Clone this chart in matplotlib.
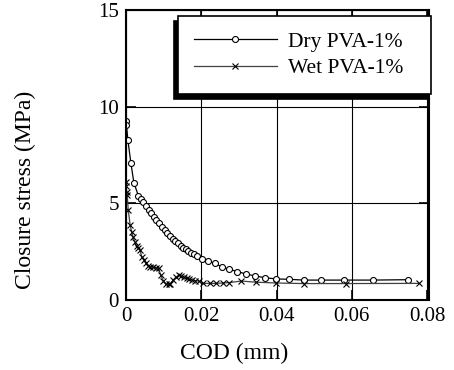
import numpy as np
import matplotlib
matplotlib.use('Agg')
import matplotlib.pyplot as plt

plt.rcParams['font.family'] = ['Liberation Serif', 'DejaVu Serif']

# crack opening displacement (mm) and closure stress (MPa)
dry_cod = [0.0, 0.00013, 0.0005, 0.0013, 0.0021, 0.0033, 0.0040, 0.0046, 0.0053, 0.0060,
           0.0067, 0.0074, 0.0081, 0.0088, 0.0095, 0.0103, 0.0109, 0.0117, 0.0124, 0.0131,
           0.0138, 0.0145, 0.0152, 0.0159, 0.0166, 0.0173, 0.0180, 0.0189, 0.0203, 0.0218,
           0.0236, 0.0254, 0.0274, 0.0296, 0.0320, 0.0344, 0.0370, 0.0399, 0.0433, 0.0472,
           0.0518, 0.0580, 0.0655, 0.0750]
dry_stress = [9.27, 9.05, 8.27, 7.08, 6.06, 5.39, 5.20, 5.07, 4.86, 4.65,
              4.48, 4.31, 4.14, 3.97, 3.79, 3.62, 3.45, 3.31, 3.17, 3.05,
              2.93, 2.81, 2.70, 2.62, 2.53, 2.45, 2.36, 2.27, 2.12, 2.02,
              1.90, 1.72, 1.59, 1.47, 1.34, 1.24, 1.15, 1.09, 1.07, 1.03,
              1.03, 1.03, 1.03, 1.05]

wet_cod = [0.0, 0.0, 0.0002, 0.0003, 0.0006, 0.0011, 0.0015, 0.0019, 0.0024, 0.0028,
           0.0033, 0.0037, 0.0042, 0.0048, 0.0053, 0.0059, 0.0065, 0.0072, 0.0079, 0.0087,
           0.0092, 0.0099, 0.0106, 0.0113, 0.0118, 0.0125, 0.0132, 0.0140, 0.0146, 0.0154,
           0.0161, 0.0168, 0.0175, 0.0184, 0.0193, 0.0205, 0.0223, 0.0240, 0.0258, 0.0274,
           0.0306, 0.0346, 0.0399, 0.0472, 0.0585, 0.0779]
wet_stress = [6.10, 5.90, 5.60, 5.45, 4.65, 3.88, 3.53, 3.24, 2.98, 2.79,
              2.70, 2.58, 2.24, 2.07, 1.90, 1.77, 1.72, 1.69, 1.67, 1.64,
              1.29, 1.00, 0.81, 0.81, 0.83, 1.03, 1.17, 1.28, 1.24, 1.17,
              1.12, 1.07, 1.03, 1.00, 0.98, 0.86, 0.86, 0.86, 0.88, 0.90,
              0.98, 0.92, 0.88, 0.85, 0.85, 0.86]

fig = plt.figure(figsize=(4.54, 3.70), dpi=100)
ax = fig.add_axes([126 / 454, 1 - 300 / 370, 303 / 454, 290 / 370])

ax.plot(dry_cod, dry_stress, color='black', lw=0.9, marker='o', ms=4.3,
        mfc='white', mec='black', mew=0.8, label='Dry PVA-1%')
ax.plot(wet_cod, wet_stress, color='0.25', lw=0.9, marker='x', ms=4,
        mec='black', mew=0.8, label='Wet PVA-1%')

ax.set_xlim(0, 0.0805)
ax.set_ylim(0, 15)
ax.set_xticks([0, 0.02, 0.04, 0.06, 0.08])
ax.set_xticklabels(['0', '0.02', '0.04', '0.06', '0.08'])
ax.set_yticks([0, 5, 10, 15])
ax.grid(True, color='black', lw=0.8)
ax.set_axisbelow(True)

ax.tick_params(direction='in', length=7, width=1.2, top=True, right=True,
               labelsize=15, pad=5)
for s in ax.spines.values():
    s.set_linewidth(1.5)

ax.set_xlabel('COD (mm)', fontsize=17, va='center', ha='center')
ax.xaxis.set_label_coords(0.356, -0.183)
ax.set_ylabel('Closure stress (MPa)', fontsize=17, va='center', ha='center')
ax.yaxis.set_label_coords(-0.333, 0.38)

# boxed legend with a solid drop shadow along the lower left
leg = ax.legend(loc='upper left', bbox_to_anchor=(0.17, 0.69, 0.835, 0.29),
                mode='expand', fontsize=15.5, fancybox=False, framealpha=1,
                edgecolor='black', handlelength=3.85, handletextpad=0.55,
                borderpad=0.75, labelspacing=0.28, borderaxespad=0,
                shadow={'color': 'black', 'alpha': 1, 'ox': -2.5, 'oy': -3.5})
leg.get_frame().set_linewidth(1.2)

fig.savefig('out.png', dpi=100)
